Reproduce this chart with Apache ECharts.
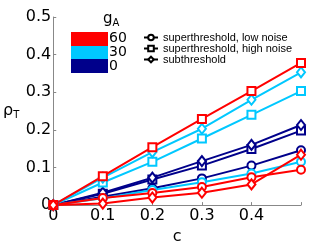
<!DOCTYPE html>
<html><head><meta charset="utf-8">
<script src="https://cdn.jsdelivr.net/npm/echarts@6/dist/echarts.min.js"></script>
<style>html,body{margin:0;padding:0;background:#fff}#c{width:332px;height:250px}</style>
</head><body><div id="c"></div>
<script>
const cValues = [0, 0.1, 0.2, 0.3, 0.4, 0.5];
const xTicks = ['0', '0.1', '0.2', '0.3', '0.4'];
const yTicks = ['0', '0.1', '0.2', '0.3', '0.4', '0.5'];
const gALevels = ['60', '30', '0'];
const noiseTypes = ['superthreshold, low noise', 'superthreshold, high noise', 'subthreshold'];

// gA = 60 (red)
const red_low  = [0, 0.019, 0.032, 0.048, 0.074, 0.094];
const red_high = [0, 0.077, 0.154, 0.229, 0.303, 0.378];
const red_sub  = [0, 0.004, 0.020, 0.033, 0.055, 0.134];
// gA = 30 (cyan)
const cyan_low  = [0, 0.018, 0.040, 0.061, 0.084, 0.115];
const cyan_high = [0, 0.060, 0.115, 0.177, 0.240, 0.303];
const cyan_sub  = [0, 0.073, 0.141, 0.203, 0.280, 0.353];
// gA = 0 (navy)
const navy_low  = [0, 0.022, 0.045, 0.071, 0.105, 0.146];
const navy_high = [0, 0.030, 0.068, 0.105, 0.149, 0.198];
const navy_sub  = [0, 0.033, 0.073, 0.117, 0.160, 0.213];

const colors = {'60': '#ff0000', '30': '#00c8ff', '0': '#00008b'};
const symbols = ['emptyCircle', 'emptySquare', 'emptyDiamond'];

const groups = [
  ['60', [red_low, red_high, red_sub]],
  ['30', [cyan_low, cyan_high, cyan_sub]],
  ['0',  [navy_low, navy_high, navy_sub]]
];

const series = [];
[...groups].reverse().forEach(([g, arrs]) => {
  arrs.forEach((arr, i) => {
    series.push({
      type: 'line', name: 'g' + g + '_' + i,
      data: arr.map((v, k) => [cValues[k], v]),
      symbol: symbols[i], symbolSize: i === 2 ? [8, 10] : 8,
      showSymbol: true,
      lineStyle: {color: colors[g], width: 2},
      itemStyle: {color: colors[g], borderColor: colors[g], borderWidth: 2},
      z: 2, animation: false
    });
  });
});
noiseTypes.forEach((n, i) => {
  series.push({
    type: 'line', name: n, data: [],
    symbol: symbols[i], symbolSize: 7,
    lineStyle: {color: '#000', width: 1},
    itemStyle: {color: '#000', borderColor: '#000', borderWidth: 1}
  });
});

const chart = echarts.init(document.getElementById('c'), null, {renderer: 'canvas'});
const labelFont = {fontFamily: 'DejaVu Sans', fontSize: 16, color: '#000'};
chart.setOption({
  animation: false,
  grid: {left: 53, right: 31, top: 17, bottom: 41, containLabel: false},
  xAxis: {
    type: 'value', min: 0, max: 0.5, interval: 0.1,
    name: 'c', nameLocation: 'middle', nameGap: 23,
    nameTextStyle: {fontFamily: 'DejaVu Sans', fontSize: 16, color: '#000'},
    axisLine: {show: true, lineStyle: {color: '#888', width: 1}},
    axisTick: {show: true, inside: true, length: 3, lineStyle: {color: '#888'}},
    axisLabel: Object.assign({margin: 3, formatter: (v) => {const i = Math.round(v * 10); return i < xTicks.length ? xTicks[i] : '';}}, labelFont),
    splitLine: {show: false}
  },
  yAxis: {
    type: 'value', min: 0, max: 0.5, interval: 0.1,
    name: '{r|ρ}{s|T}', nameLocation: 'middle', nameRotate: 0, nameGap: 34,
    nameTextStyle: {rich: {r: {fontFamily: 'DejaVu Sans', fontSize: 16, color: '#000'}, s: {fontFamily: 'DejaVu Sans', fontSize: 10, color: '#000', verticalAlign: 'bottom', padding: [8, 0, 0, 0]}}},
    axisLine: {show: true, lineStyle: {color: '#888', width: 1}},
    axisTick: {show: true, inside: true, length: 3, lineStyle: {color: '#888'}},
    axisLabel: Object.assign({margin: 2, formatter: (v) => yTicks[Math.round(v * 10)]}, labelFont),
    splitLine: {show: false}
  },
  legend: {
    data: noiseTypes, orient: 'vertical', left: 143, top: 32,
    itemWidth: 14, itemHeight: 7, itemGap: 0,
    textStyle: {fontFamily: 'Liberation Sans', fontSize: 11, color: '#000', lineHeight: 11},
    padding: 0
  },
  graphic: [
    {type: 'rect', left: 71, top: 32, shape: {width: 37, height: 14}, style: {fill: colors[gALevels[0]]}},
    {type: 'rect', left: 71, top: 46, shape: {width: 37, height: 13}, style: {fill: colors[gALevels[1]]}},
    {type: 'rect', left: 71, top: 59, shape: {width: 37, height: 14}, style: {fill: colors[gALevels[2]]}},
    {type: 'text', left: 109, top: 31, style: {text: gALevels[0], font: '14px DejaVu Sans', fill: '#000'}},
    {type: 'text', left: 109, top: 45, style: {text: gALevels[1], font: '14px DejaVu Sans', fill: '#000'}},
    {type: 'text', left: 109, top: 59, style: {text: gALevels[2], font: '14px DejaVu Sans', fill: '#000'}},
    {type: 'text', left: 103, top: 12, style: {text: '{g|g}{a|A}', rich: {g: {fontFamily: 'DejaVu Sans', fontSize: 15, fill: '#000'}, a: {fontFamily: 'DejaVu Sans', fontSize: 10, fill: '#000', padding: [8, 0, 0, 0]}}}}
  ],
  series: series
});
</script></body></html>
